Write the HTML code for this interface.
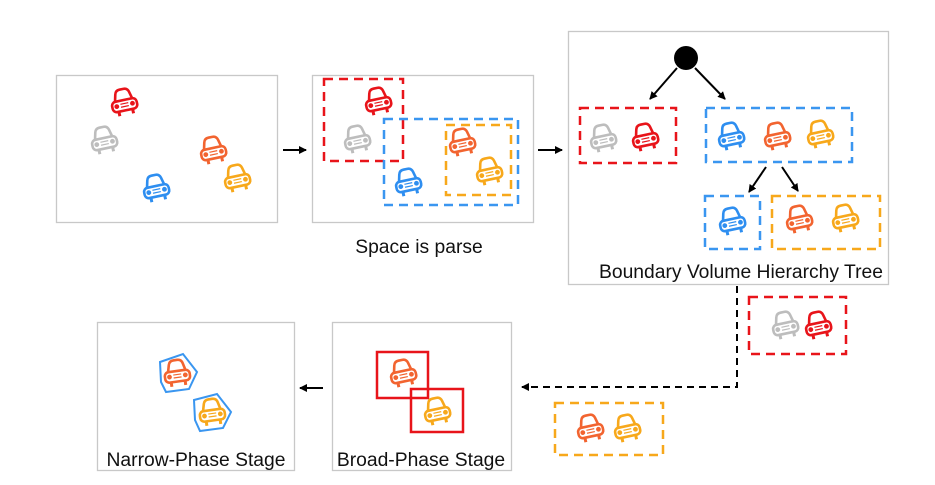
<!DOCTYPE html>
<html><head><meta charset="utf-8"><style>
html,body{margin:0;padding:0;background:#fff;}
svg{display:block;}
text{font-family:"Liberation Sans",Arial,sans-serif;font-size:19.3px;fill:#111;}
</style></head><body>
<svg width="935" height="485" viewBox="0 0 935 485" xmlns="http://www.w3.org/2000/svg">
<defs>
<g id="car" fill="none" stroke="currentColor" stroke-width="2.6" stroke-linejoin="round">
  <path d="M-9,-1 L-7,-9 Q-6,-13 -2,-13 L2,-13 Q6,-13 7,-9 L9,-1"/>
  <rect x="-12.5" y="-2" width="25" height="10.5" rx="4"/>
  <circle cx="-8" cy="3" r="2.4" fill="currentColor" stroke="none"/>
  <circle cx="8" cy="3" r="2.4" fill="currentColor" stroke="none"/>
  <path d="M-4,1.5 H4 M-4,4.5 H4" stroke-width="1.2"/>
  <path d="M-7,8 V13 M7,8 V13" stroke-width="3"/>
</g>
<marker id="ah" markerWidth="8" markerHeight="8" refX="7" refY="4" orient="auto" markerUnits="userSpaceOnUse">
  <path d="M0,0 L8,4 L0,8 z" fill="#000"/>
</marker>
</defs>

<g fill="none" stroke="#c8c8c8" stroke-width="1.3">
<rect x="56.5" y="75.5" width="221" height="147"/>
<rect x="312.5" y="75.5" width="221" height="147"/>
<rect x="568.5" y="31.5" width="320" height="253"/>
<rect x="97.5" y="322.5" width="197" height="148"/>
<rect x="332.5" y="322.5" width="179" height="148"/>
</g>

<use href="#car" color="#e8141a" transform="translate(124,102) rotate(-12)"/>
<use href="#car" color="#bdbdbd" transform="translate(104,140) rotate(-12)"/>
<use href="#car" color="#f26430" transform="translate(213,150) rotate(-12)"/>
<use href="#car" color="#f7a81b" transform="translate(237,178) rotate(-12)"/>
<use href="#car" color="#2e8ef0" transform="translate(156,188) rotate(-12)"/>

<g stroke="#000" stroke-width="2">
<line x1="283" y1="150" x2="306" y2="150" marker-end="url(#ah)"/>
<line x1="538" y1="150" x2="562" y2="150" marker-end="url(#ah)"/>
<line x1="323" y1="388" x2="300" y2="388" marker-end="url(#ah)"/>
<line x1="677" y1="68" x2="650" y2="99" marker-end="url(#ah)"/>
<line x1="695" y1="68" x2="725" y2="99" marker-end="url(#ah)"/>
<line x1="766" y1="167" x2="749" y2="192" marker-end="url(#ah)"/>
<line x1="782" y1="167" x2="798" y2="191" marker-end="url(#ah)"/>
</g>
<circle cx="686" cy="58" r="12" fill="#000"/>
<path d="M737,286 V387 H522" fill="none" stroke="#000" stroke-width="2" stroke-dasharray="7,5" marker-end="url(#ah)"/>

<g fill="none" stroke-width="2.5" stroke-dasharray="9,6">
<rect x="324" y="79" width="79" height="82" stroke="#e8141a"/>
<rect x="384" y="119" width="134" height="86" stroke="#3a96f0"/>
<rect x="446" y="125" width="65" height="70" stroke="#f7a81b"/>
<rect x="580" y="108" width="96" height="55" stroke="#e8141a"/>
<rect x="706" y="108" width="146" height="54" stroke="#3a96f0"/>
<rect x="705" y="196" width="55" height="53" stroke="#3a96f0"/>
<rect x="772" y="196" width="108" height="53" stroke="#f7a81b"/>
<rect x="749" y="297" width="97" height="57" stroke="#e8141a"/>
<rect x="555" y="403" width="108" height="52" stroke="#f7a81b"/>
</g>
<use href="#car" color="#e8141a" transform="translate(378,101) rotate(-12)"/>
<use href="#car" color="#bdbdbd" transform="translate(357,139) rotate(-12)"/>
<use href="#car" color="#f26430" transform="translate(462,142) rotate(-12)"/>
<use href="#car" color="#f7a81b" transform="translate(489,171) rotate(-12)"/>
<use href="#car" color="#2e8ef0" transform="translate(408,182) rotate(-12)"/>

<use href="#car" color="#bdbdbd" transform="translate(603,138) rotate(-12)"/>
<use href="#car" color="#e8141a" transform="translate(645,137) rotate(-12)"/>
<use href="#car" color="#2e8ef0" transform="translate(731,136) rotate(-12)"/>
<use href="#car" color="#f26430" transform="translate(777,136) rotate(-12)"/>
<use href="#car" color="#f7a81b" transform="translate(820,134) rotate(-12)"/>
<use href="#car" color="#2e8ef0" transform="translate(732,221) rotate(-12)"/>
<use href="#car" color="#f26430" transform="translate(799,219) rotate(-12)"/>
<use href="#car" color="#f7a81b" transform="translate(845,218) rotate(-12)"/>

<use href="#car" color="#bdbdbd" transform="translate(785,325) rotate(-12)"/>
<use href="#car" color="#e8141a" transform="translate(818,325) rotate(-12)"/>
<use href="#car" color="#f26430" transform="translate(590,428) rotate(-12)"/>
<use href="#car" color="#f7a81b" transform="translate(627,428) rotate(-12)"/>

<rect x="377" y="352" width="51" height="46" fill="none" stroke="#e8141a" stroke-width="2.5"/>
<rect x="411" y="389" width="52" height="43" fill="none" stroke="#e8141a" stroke-width="2.5"/>
<use href="#car" color="#f26430" transform="translate(403,373) rotate(-12)"/>
<use href="#car" color="#f7a81b" transform="translate(437,411) rotate(-12)"/>

<path d="M160,362 L183,354 L197,372 L189,389 L166,392 L161,382 Z" fill="none" stroke="#3a96f0" stroke-width="2"/>
<path d="M194,400 L217,394 L231,412 L223,428 L200,431 L195,420 Z" fill="none" stroke="#3a96f0" stroke-width="2"/>
<use href="#car" color="#f26430" transform="translate(177,373) rotate(-8)"/>
<use href="#car" color="#f7a81b" transform="translate(212,412) rotate(-8)"/>

<text x="419" y="253" text-anchor="middle">Space is parse</text>
<text x="741" y="278" text-anchor="middle">Boundary Volume Hierarchy Tree</text>
<text x="196" y="466" text-anchor="middle">Narrow-Phase Stage</text>
<text x="421" y="466" text-anchor="middle">Broad-Phase Stage</text>
</svg>
</body></html>
